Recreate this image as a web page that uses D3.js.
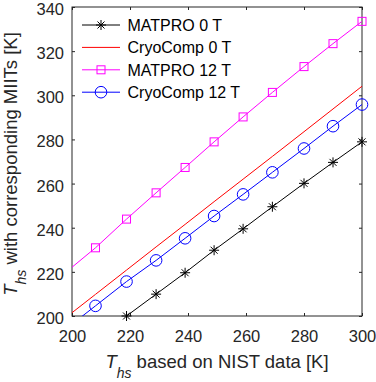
<!DOCTYPE html>
<html>
<head>
<meta charset="utf-8">
<script src="https://cdn.jsdelivr.net/npm/d3@7"></script>
<style>
  body { margin: 0; background: #fff; }
  text { font-family: "Liberation Sans", Arial, sans-serif; }
</style>
</head>
<body>
<div id="chart"></div>
<script>
// T_hs based on NIST data [K] (first point has no marker)
var tNist = [200, 208.1, 218.8, 229, 239, 249, 259, 269.1, 280, 290, 300];
// T_hs with corresponding MIITs [K]
var matpro0 = [181, 189.6, 200, 209.9, 219.6, 229.8, 239.5, 249.5, 260.1, 269.6, 278.9];
var cryo0 = [201.5, 209.8, 220.8, 231.3, 241.5, 251.8, 262, 272.3, 283.5, 293.8, 304.1];
var matpro12 = [222.1, 230.9, 243.9, 255.8, 267.3, 278.9, 290.2, 301.3, 313, 323.4, 333.5];
var cryo12 = [196.3, 204.6, 215.6, 225.2, 235.2, 245.3, 255.1, 265.1, 275.9, 286, 295.8];
var xTicks = [200, 220, 240, 260, 280, 300];
var yTicks = [200, 220, 240, 260, 280, 300, 320, 340];

var series = [
  {name: "MATPRO 0 T", values: matpro0, color: "#000000", marker: "star"},
  {name: "CryoComp 0 T", values: cryo0, color: "#ff0000", marker: null},
  {name: "MATPRO 12 T", values: matpro12, color: "#ff00ff", marker: "square"},
  {name: "CryoComp 12 T", values: cryo12, color: "#0000ff", marker: "circle"}
];

var margin = {top: 7, left: 72, right: 14, bottom: 66};
var W = 376, H = 382;
var w = W - margin.left - margin.right,
    h = H - margin.top - margin.bottom;
var axisColor = "#262626";

var svg = d3.select("#chart").append("svg")
  .attr("width", W).attr("height", H)
  .append("g")
  .attr("transform", "translate(" + margin.left + "," + margin.top + ")");

var x = d3.scaleLinear().domain([200, 300]).range([0, w]);
var y = d3.scaleLinear().domain([200, 340]).range([h, 0]);

svg.append("clipPath").attr("id", "plot-clip")
  .append("rect").attr("width", w).attr("height", h);

// axes, ticks pointing inward, box on
function styleAxis(g, showLabels) {
  g.select(".domain").remove();
  g.selectAll(".tick line").attr("stroke", axisColor);
  g.selectAll(".tick text")
    .attr("fill", axisColor)
    .style("font-size", "16.5px")
    .style("display", showLabels ? null : "none");
}
svg.append("g").attr("transform", "translate(0," + h + ")")
  .call(d3.axisBottom(x).tickValues(xTicks).tickSizeInner(-3).tickSizeOuter(0).tickPadding(14))
  .call(styleAxis, true);
svg.append("g")
  .call(d3.axisTop(x).tickValues(xTicks).tickSizeInner(-3).tickSizeOuter(0))
  .call(styleAxis, false);
svg.append("g")
  .call(d3.axisLeft(y).tickValues(yTicks).tickSizeInner(-3).tickSizeOuter(0).tickPadding(8))
  .call(styleAxis, true)
  .selectAll(".tick text").attr("dy", "0.45em");
svg.append("g").attr("transform", "translate(" + w + ",0)")
  .call(d3.axisRight(y).tickValues(yTicks).tickSizeInner(-3).tickSizeOuter(0))
  .call(styleAxis, false);

svg.append("rect")
  .attr("width", w).attr("height", h)
  .attr("fill", "none").attr("stroke", axisColor).attr("stroke-width", 1);

var line = d3.line()
  .x(function(d, i) { return x(tNist[i]); })
  .y(function(d) { return y(d); });

function drawMarker(g, type, color) {
  if (type === "star") {
    var r = 5;
    var d = "M" + (-r) + ",0L" + r + ",0M0," + (-r) + "L0," + r +
      "M" + (-r * 0.7) + "," + (-r * 0.7) + "L" + (r * 0.7) + "," + (r * 0.7) +
      "M" + (-r * 0.7) + "," + (r * 0.7) + "L" + (r * 0.7) + "," + (-r * 0.7);
    g.append("path").attr("d", d).attr("stroke", color).attr("stroke-width", 1).attr("fill", "none");
  } else if (type === "square") {
    g.append("rect").attr("x", -4).attr("y", -4).attr("width", 8).attr("height", 8)
      .attr("fill", "none").attr("stroke", color).attr("stroke-width", 1);
  } else if (type === "circle") {
    g.append("circle").attr("r", 5.8)
      .attr("fill", "none").attr("stroke", color).attr("stroke-width", 1);
  }
}

var plot = svg.append("g").attr("clip-path", "url(#plot-clip)");
series.forEach(function(s) {
  plot.append("path")
    .datum(s.values)
    .attr("d", line)
    .attr("fill", "none")
    .attr("stroke", s.color)
    .attr("stroke-width", 1);
});
series.forEach(function(s) {
  if (!s.marker) return;
  s.values.forEach(function(v, i) {
    if (i === 0 || v < 200) return;
    var g = svg.append("g").attr("transform", "translate(" + x(tNist[i]) + "," + y(v) + ")");
    drawMarker(g, s.marker, s.color);
  });
});

// legend
var legend = svg.append("g").attr("transform", "translate(10,18)");
series.forEach(function(s, i) {
  var g = legend.append("g").attr("transform", "translate(0," + (i * 22.4) + ")");
  g.append("line").attr("x1", 0).attr("x2", 38).attr("y1", 0).attr("y2", 0)
    .attr("stroke", s.color).attr("stroke-width", 1);
  if (s.marker) {
    var m = g.append("g").attr("transform", "translate(19,0)");
    drawMarker(m, s.marker, s.color);
  }
  g.append("text").attr("x", 45.5).attr("y", 5.8)
    .attr("fill", "#000").style("font-size", "16px").text(s.name);
});

// axis labels
var xl = svg.append("text")
  .attr("x", w / 2).attr("y", h + 52)
  .attr("text-anchor", "middle").attr("fill", axisColor).style("font-size", "18.5px");
xl.append("tspan").style("font-style", "italic").text("T");
xl.append("tspan").style("font-style", "italic").style("font-size", "14px").attr("dy", 10).text("hs");
xl.append("tspan").attr("dy", -10).text(" based on NIST data [K]");

var yl = svg.append("text")
  .attr("transform", "translate(" + (-55.5) + "," + (h / 2 + 2.5) + ") rotate(-90)")
  .attr("text-anchor", "middle").attr("fill", axisColor).style("font-size", "18.5px");
yl.append("tspan").style("font-style", "italic").text("T");
yl.append("tspan").style("font-style", "italic").style("font-size", "14px").attr("dy", 9).text("hs");
yl.append("tspan").attr("dy", -9).text(" with corresponding MIITs [K]");
</script>
</body>
</html>
